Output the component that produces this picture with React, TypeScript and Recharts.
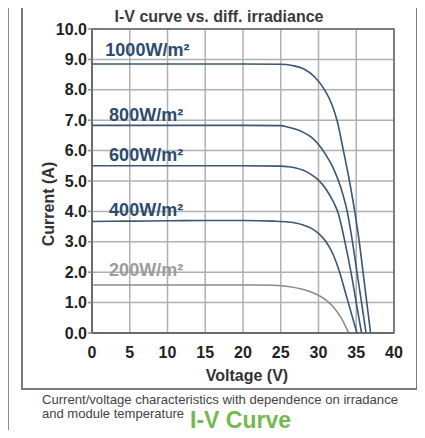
import React from 'react';
import { ComposedChart, Line, XAxis, YAxis, CartesianGrid, ReferenceArea, ReferenceDot } from 'recharts';

// Voltage (V) / Current (A) samples
const v1000 = [0, 5, 10, 15, 20, 25, 26.5, 28, 29.5, 30.8, 31.8, 32.5, 33.3, 34.1, 34.8, 35.4, 35.9, 36.4, 36.9];
const i1000 = [8.85, 8.85, 8.85, 8.85, 8.85, 8.84, 8.8, 8.69, 8.42, 8.0, 7.5, 6.95, 6.0, 5.0, 4.0, 3.0, 2.0, 1.0, 0];

const v800 = [0, 5, 10, 15, 20, 25, 26, 27, 28, 29, 30, 31, 32, 33, 33.8, 34.5, 35.1, 35.7, 36.3];
const i800 = [6.83, 6.83, 6.83, 6.83, 6.83, 6.82, 6.77, 6.7, 6.6, 6.45, 6.2, 5.85, 5.4, 4.75, 4.0, 3.0, 2.0, 1.0, 0];

const v600 = [0, 5, 10, 15, 20, 25, 26, 27, 28, 29, 30, 31, 32, 32.6, 33.5, 34.3, 35.0, 35.7];
const i600 = [5.5, 5.5, 5.5, 5.5, 5.5, 5.49, 5.47, 5.43, 5.35, 5.22, 5.03, 4.73, 4.3, 3.95, 3.0, 2.0, 1.0, 0];

const v400 = [0, 5, 10, 15, 20, 24, 26, 28, 29, 30, 31, 32, 32.8, 33.6, 34.4, 35.1];
const i400 = [3.67, 3.68, 3.69, 3.7, 3.7, 3.68, 3.65, 3.55, 3.45, 3.28, 3.0, 2.55, 2.0, 1.3, 0.6, 0];

const v200 = [0, 5, 10, 15, 20, 22, 24, 26, 28, 29, 30, 31, 32, 33, 34.0];
const i200 = [1.58, 1.58, 1.58, 1.58, 1.58, 1.58, 1.57, 1.53, 1.43, 1.35, 1.24, 1.08, 0.85, 0.5, 0];

const xTicks = [0, 5, 10, 15, 20, 25, 30, 35, 40];
const yTicks = [0, 1, 2, 3, 4, 5, 6, 7, 8, 9, 10];

const labelNames = ['1000W/m²', '800W/m²', '600W/m²', '400W/m²', '200W/m²'];
const labelX = [1.9, 2.4, 2.4, 2.4, 2.4];
const labelY = [9.3, 7.16, 5.85, 4.03, 2.06];

const build = (vs: number[], is: number[]) => vs.map((v, k) => ({ v, i: is[k] }));

const series = [
  { key: 's1000', data: build(v1000, i1000), color: '#3b5574' },
  { key: 's800', data: build(v800, i800), color: '#3b5574' },
  { key: 's600', data: build(v600, i600), color: '#3b5574' },
  { key: 's400', data: build(v400, i400), color: '#3b5574' },
  { key: 's200', data: build(v200, i200), color: '#8c8c8c' },
];
const labelColors = ['#2d4b6e', '#2d4b6e', '#2d4b6e', '#2d4b6e', '#9c9c9c'];

const FONT = '"Liberation Sans", Arial, sans-serif';

export default function App() {
  return (
    <div style={{ position: 'relative', width: 425, height: 438, margin: -8, background: '#fff', fontFamily: FONT }}>
      <svg width={425} height={438} style={{ position: 'absolute', left: 0, top: 0 }}>
        <line x1={8} y1={0} x2={8} y2={438} stroke="#8a8a8a" strokeWidth={2} />
        <rect x={22} y={2} width={395} height={387} fill="none" stroke="#7a7a7a" strokeWidth={2} />
        <text x={219} y={22} textAnchor="middle" fontSize={16} fontWeight="bold" fill="#3a3a3a" fontFamily={FONT}>
          I-V curve vs. diff. irradiance
        </text>
        <text x={42} y={404} fontSize={13} fill="#444" fontFamily={FONT} textLength={356} lengthAdjust="spacingAndGlyphs">
          Current/voltage characteristics with dependence on irradance
        </text>
        <text x={42} y={418} fontSize={13} fill="#444" fontFamily={FONT} textLength={142} lengthAdjust="spacingAndGlyphs">
          and module temperature
        </text>
        <text x={190} y={427.5} fontSize={23} fontWeight="bold" fill="#74b94f" fontFamily={FONT}>
          I-V Curve
        </text>
      </svg>
      <div style={{ position: 'absolute', left: 0, top: 0 }}>
        <ComposedChart width={425} height={395} margin={{ top: 29, right: 31, left: 0, bottom: 0 }}>
          <CartesianGrid stroke="#b0b0b0" strokeWidth={1.5} />
          <XAxis
            dataKey="v"
            type="number"
            domain={[0, 40]}
            ticks={xTicks}
            allowDuplicatedCategory={false}
            height={62}
            tickLine={false}
            tickSize={8}
            tickMargin={6}
            axisLine={{ stroke: '#666', strokeWidth: 1.5 }}
            tick={{ fontSize: 16, fontWeight: 'bold', fill: '#222', fontFamily: FONT }}
            label={{
              content: (p: any) => {
                const vb = p.viewBox;
                return (
                  <text x={vb.x + vb.width / 2 + 4} y={vb.y + 42} textAnchor="middle" dominantBaseline="central" fontSize={16} fontWeight="bold" fill="#333" fontFamily={FONT}>
                    Voltage (V)
                  </text>
                );
              },
            }}
          />
          <YAxis
            type="number"
            domain={[0, 10]}
            ticks={yTicks}
            width={92}
            tickSize={4}
            tickMargin={1}
            tickLine={{ stroke: '#888', strokeWidth: 1.5 }}
            axisLine={{ stroke: '#666', strokeWidth: 1.5 }}
            tickFormatter={(t: number) => t.toFixed(1)}
            tick={{ fontSize: 16, fontWeight: 'bold', fill: '#222', fontFamily: FONT }}
            label={{
              content: (p: any) => {
                const vb = p.viewBox;
                const cx = vb.x + 48;
                const cy = vb.y + vb.height / 2 + 23;
                return (
                  <text x={cx} y={cy} transform={`rotate(-90, ${cx}, ${cy})`} textAnchor="middle" dominantBaseline="central" fontSize={16} fontWeight="bold" fill="#333" fontFamily={FONT}>
                    Current (A)
                  </text>
                );
              },
            }}
          />
          <ReferenceArea x1={0} x2={40} y1={0} y2={10} fill="none" stroke="#666" strokeWidth={1.5} fillOpacity={0} />
          {series.map((s) => (
            <Line
              key={s.key}
              data={s.data}
              dataKey="i"
              type="monotone"
              stroke={s.color}
              strokeWidth={1.6}
              dot={false}
              activeDot={false}
              isAnimationActive={false}
            />
          ))}
          {labelNames.map((name, k) => (
            <ReferenceDot
              key={name}
              x={labelX[k]}
              y={labelY[k]}
              r={1}
              fill="none"
              stroke="none"
              label={(p: any) => {
                const vb = p.viewBox;
                return (
                  <text x={vb.x} y={vb.y + 1} dominantBaseline="central" fontSize={18} fontWeight="bold" fill={labelColors[k]} fontFamily={FONT}>
                    {name}
                  </text>
                );
              }}
            />
          ))}
        </ComposedChart>
      </div>
    </div>
  );
}
